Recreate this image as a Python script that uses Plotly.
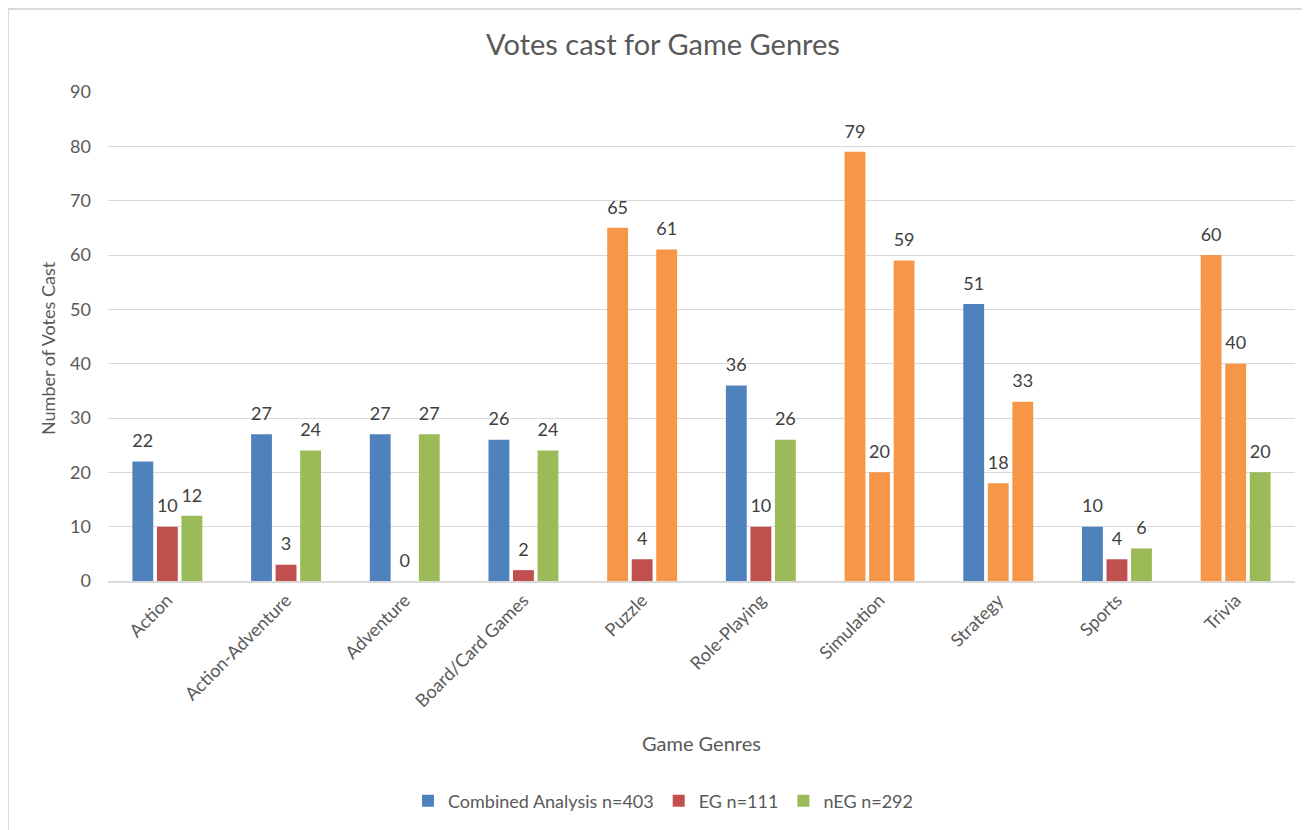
import plotly.graph_objects as go

genres = ["Action", "Action-Adventure", "Adventure", "Board/Card Games", "Puzzle",
          "Role-Playing", "Simulation", "Strategy", "Sports", "Trivia"]
combined = [22, 27, 27, 26, 65, 36, 79, 51, 10, 60]
eg = [10, 3, 0, 2, 4, 10, 20, 18, 4, 40]
neg = [12, 24, 27, 24, 61, 26, 59, 33, 6, 20]

# highlighted bars (orange) per series
hl_combined = [False, False, False, False, True, False, True, False, False, True]
hl_eg = [False, False, False, False, False, False, True, True, False, True]
hl_neg = [False, False, False, False, True, False, True, True, False, False]

BLUE, RED, GREEN, ORANGE = "#4F81BD", "#C0504D", "#9BBB59", "#F79646"
FONT = "Lato"
W, H = 1310, 830
OFF = 8  # page offset of the figure in the screenshot

def colors(base, hl):
    return [ORANGE if h else base for h in hl]

series = [
    ("Combined Analysis n=403", combined, BLUE, hl_combined),
    ("EG n=111", eg, RED, hl_eg),
    ("nEG n=292", neg, GREEN, hl_neg),
]

fig = go.Figure()
for k, (name, vals, base, hl) in enumerate(series):
    fig.add_trace(go.Bar(
        x=genres, y=vals, name=name, offsetgroup=str(k),
        marker=dict(color=colors(base, hl), line=dict(width=0)),
    ))
for k, (name, vals, base, hl) in enumerate(series):
    fig.add_trace(go.Scatter(
        x=genres, y=vals, name=name, offsetgroup=str(k), showlegend=False,
        mode="markers+text", text=vals, textposition="top center",
        marker=dict(size=14, color="rgba(0,0,0,0)"), cliponaxis=False,
        textfont=dict(family=FONT, size=18, color="#404040"), hoverinfo="skip",
    ))

L, T, R, B = 108 - OFF, 92 - OFF, 1295 - OFF, 581 - OFF
PW, PH = R - L, B - T

fig.update_layout(
    width=W, height=H,
    margin=dict(l=L, r=W - R, t=T, b=H - B, autoexpand=False),
    paper_bgcolor="white", plot_bgcolor="white",
    barmode="group", bargap=0.38, bargroupgap=0.15,
    scattermode="group", scattergap=0.38,
    font=dict(family=FONT, color="#595959"),
    title=dict(text="Votes cast for Game Genres", x=(663 - OFF) / W, xanchor="center",
               y=1 - (45 - OFF) / H, yanchor="middle",
               font=dict(family=FONT, size=29, color="#595959")),
    showlegend=True,
    legend=dict(orientation="h", x=(663 - OFF) / W, xref="container", xanchor="center",
                y=1 - (801 - OFF) / H, yref="container", yanchor="middle",
                font=dict(family=FONT, size=18, color="#595959"),
                itemwidth=30, traceorder="normal"),
    xaxis=dict(tickangle=-45, tickfont=dict(family=FONT, size=18, color="#595959"),
               showgrid=False, showline=True, linecolor="#D9D9D9", linewidth=1.5,
               ticks=""),
    yaxis=dict(range=[0, 90], dtick=10, showgrid=True, gridcolor="#D9D9D9", gridwidth=1,
               zeroline=False, ticks="", ticklabelstandoff=16,
               tickfont=dict(family=FONT, size=18, color="#595959")),
    annotations=[
        dict(text="Number of Votes Cast", xref="paper", yref="paper",
             x=(48 - 108) / PW, y=(581 - 348) / PH, textangle=-90,
             showarrow=False, xanchor="center", yanchor="middle",
             font=dict(family=FONT, size=18, color="#595959")),
        dict(text="Game Genres", xref="paper", yref="paper",
             x=0.5, y=(581 - 743) / PH, showarrow=False,
             xanchor="center", yanchor="middle",
             font=dict(family=FONT, size=20, color="#595959")),
    ],
    shapes=[dict(type="rect", xref="paper", yref="paper",
                 x0=(8 - 108) / PW, x1=(1340 - 108) / PW,
                 y0=(581 - 860) / PH, y1=(581 - 9) / PH,
                 line=dict(color="#D9D9D9", width=2), layer="below")],
)

fig.write_html("out.html")
